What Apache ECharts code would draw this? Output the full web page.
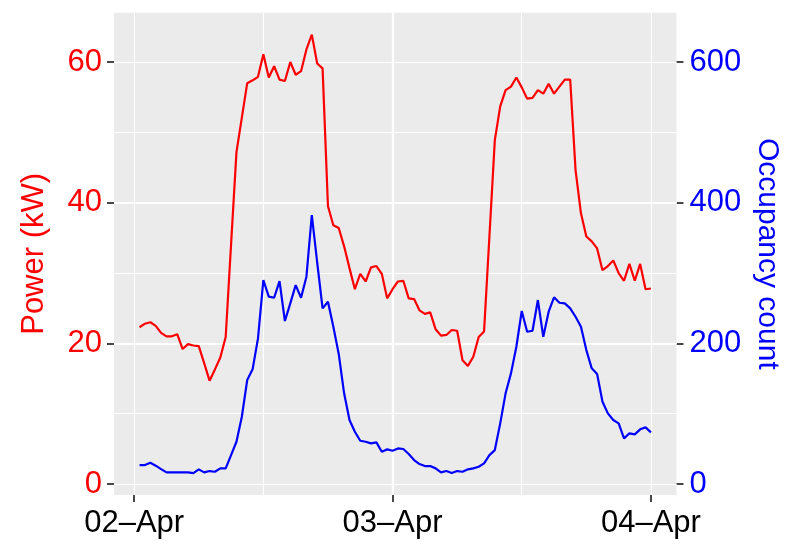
<!DOCTYPE html>
<html>
<head>
<meta charset="utf-8">
<script src="https://cdn.jsdelivr.net/npm/echarts@6/dist/echarts.min.js"></script>
<style>
  html, body { margin: 0; padding: 0; background: #fff; }
  #chart { width: 794px; height: 554px; }
</style>
</head>
<body>
<div id="chart"></div>
<script>
// Half-hourly readings, 02-Apr 00:30 through 04-Apr 00:00 (days since 02-Apr 00:00)
const startDay = 1 / 48;      // first reading at 00:30
const stepDay = 1 / 48;       // 30-minute interval

const powerKW = [22.3,22.8,23.0,22.5,21.5,21.0,21.0,21.3,19.2,19.9,19.7,19.6,17.2,14.7,16.3,18.0,20.9,
  34.1,47.2,52.1,57.0,57.4,57.9,61.1,57.8,59.4,57.5,57.3,60.0,58.2,58.7,61.8,63.9,59.8,59.1,
  39.5,36.8,36.4,33.8,30.7,27.7,29.9,28.8,30.8,31.0,29.9,26.4,27.7,
  28.8,28.9,26.4,26.3,24.7,24.2,24.4,22.0,21.1,21.2,21.9,21.8,17.6,16.8,18.1,20.9,21.7,
  35.3,48.9,53.7,56.0,56.5,57.8,56.4,54.8,54.9,56.0,55.5,56.9,55.5,56.5,57.5,57.5,44.6,38.5,35.2,34.5,33.5,
  30.4,31.0,31.8,30.0,28.9,31.3,28.9,31.3,27.7,27.8];

const occupancy = [27.0,27.0,30.3,26.1,21.3,16.6,16.6,16.6,16.6,16.6,15.6,20.9,16.6,18.5,17.5,22.3,22.3,
  41.2,60.1,95.7,147.9,163.1,207.1,290.1,266.4,264.9,288.6,231.8,256.9,282.9,264.9,294.8,382.5,
  315,249.8,259.2,223.7,185,129,91,74.4,61.6,60.2,57.8,59.3,46,49.3,47.4,
  50.7,49.8,42.7,34.1,28.4,25.6,25.6,22.3,16.6,18.5,15.6,18.5,17.5,20.9,22.3,24.6,29.4,
  41.2,48.3,86.3,129,157.4,195.2,246,216.6,218,261.6,209.4,245,265.5,257.8,256.9,249.8,
  237.9,223.7,190.5,164.5,156.4,117,100.5,91,86.3,65,72.1,70.6,77.8,80.6,73.5];

const dayTicks = [0, 1, 2];
const dayLabels = ['02\u2013Apr', '03\u2013Apr', '04\u2013Apr'];
const powerTicks = [0, 20, 40, 60];
const occTicks = [0, 200, 400, 600];

const times = powerKW.map((_, i) => startDay + i * stepDay);
const powerData = powerKW.map((v, i) => [times[i], v]);
const occData = occupancy.map((v, i) => [times[i], v]);

// ggplot-like 5% expansion
const xSpan = times[times.length - 1] - times[0];
const xMin = times[0] - 0.05 * xSpan;
const xMax = times[times.length - 1] + 0.05 * xSpan;
const allLeft = powerKW.concat(occupancy.map(v => v / 10));
const lo = Math.min(...allLeft), hi = Math.max(...allLeft);
const yMin = lo - 0.05 * (hi - lo);
const yMax = hi + 0.05 * (hi - lo);

const FONT = 'Liberation Sans';
const tickStyle = { color: '#333333', width: 1.8 };
const majorGrid = { color: '#ffffff', width: 2.2 };
const minorGrid = { color: '#ffffff', width: 1.1 };
const noLine = { show: false, onZero: false };

const chart = echarts.init(document.getElementById('chart'), null, { renderer: 'canvas' });
chart.setOption({
  animation: false,
  backgroundColor: '#ffffff',
  grid: {
    left: 114, right: 117.5, top: 12.7, bottom: 59,
    show: true, backgroundColor: '#EBEBEB', borderWidth: 0,
    containLabel: false, outerBoundsMode: 'none'
  },
  xAxis: [
    {
      type: 'value', min: xMin, max: xMax, position: 'bottom',
      axisLine: noLine,
      axisTick: { show: true, customValues: dayTicks, length: 7, lineStyle: tickStyle },
      axisLabel: {
        show: true, customValues: dayTicks, margin: 13,
        color: '#000000', fontSize: 31, fontFamily: FONT,
        formatter: v => dayLabels[dayTicks.indexOf(Math.round(v))] || ''
      },
      splitLine: { show: true, showMinLine: false, showMaxLine: false, lineStyle: majorGrid },
      z: 2
    },
    {
      type: 'value', min: xMin, max: xMax, position: 'bottom', splitNumber: 4,
      axisLine: noLine, axisTick: { show: false }, axisLabel: { show: false },
      splitLine: { show: true, showMinLine: false, showMaxLine: false, lineStyle: minorGrid },
      z: 1
    }
  ],
  yAxis: [
    {
      type: 'value', min: yMin, max: yMax, position: 'left',
      name: 'Power (kW)', nameLocation: 'middle', nameGap: 64,
      nameTextStyle: { color: '#ff0000', fontSize: 31, fontFamily: FONT },
      axisLine: noLine,
      axisTick: { show: true, customValues: powerTicks, length: 7, lineStyle: tickStyle },
      axisLabel: { show: true, customValues: powerTicks, margin: 12, color: '#ff0000', fontSize: 31, fontFamily: FONT },
      splitLine: { show: true, showMinLine: false, showMaxLine: false, lineStyle: majorGrid },
      z: 2
    },
    {
      type: 'value', min: yMin * 10, max: yMax * 10, position: 'right',
      name: 'Occupancy count', nameLocation: 'middle', nameGap: 76, nameRotate: -90,
      nameTextStyle: { color: '#0000ff', fontSize: 30, fontFamily: FONT },
      axisLine: noLine,
      axisTick: { show: true, customValues: occTicks, length: 7, lineStyle: tickStyle },
      axisLabel: { show: true, customValues: occTicks, margin: 13, color: '#0000ff', fontSize: 31, fontFamily: FONT },
      splitLine: { show: false }
    },
    {
      type: 'value', min: yMin, max: yMax, position: 'left', splitNumber: 7,
      axisLine: noLine, axisTick: { show: false }, axisLabel: { show: false },
      splitLine: { show: true, showMinLine: false, showMaxLine: false, lineStyle: minorGrid },
      z: 1
    }
  ],
  series: [
    {
      name: 'Power', type: 'line', xAxisIndex: 0, yAxisIndex: 0, data: powerData,
      showSymbol: false, lineStyle: { color: '#ff0000', width: 2.2 }, itemStyle: { color: '#ff0000' }, z: 3
    },
    {
      name: 'Occupancy', type: 'line', xAxisIndex: 0, yAxisIndex: 1, data: occData,
      showSymbol: false, lineStyle: { color: '#0000ff', width: 2.2 }, itemStyle: { color: '#0000ff' }, z: 3
    }
  ]
});
</script>
</body>
</html>
